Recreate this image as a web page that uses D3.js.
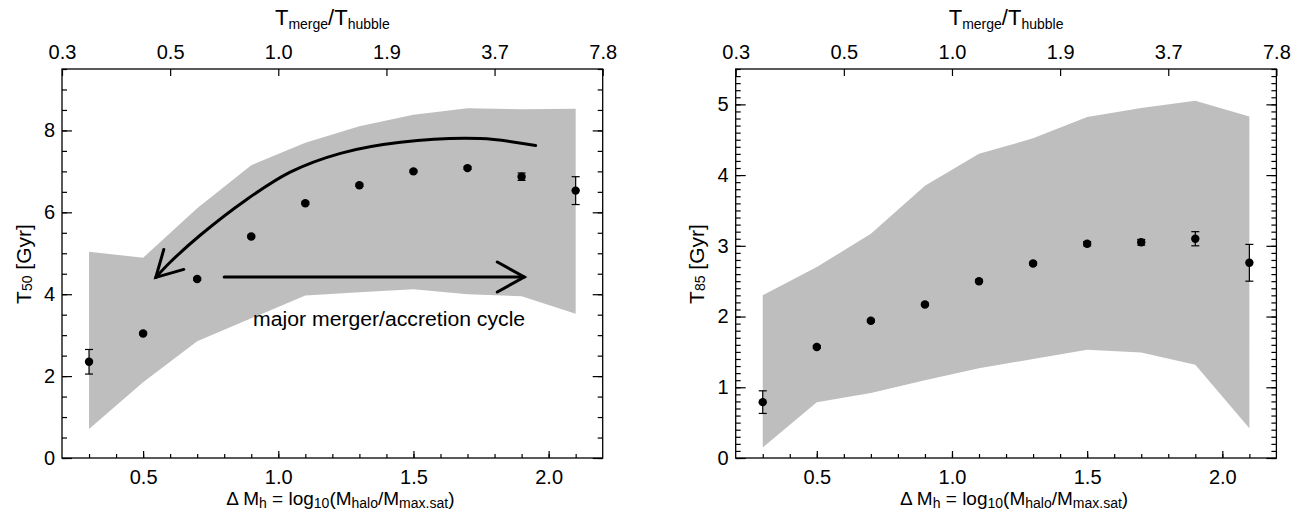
<!DOCTYPE html>
<html>
<head>
<meta charset="utf-8">
<script src="https://cdn.jsdelivr.net/npm/d3@7"></script>
<style>
  body { margin: 0; background: #fff; }
  text { font-family: "Liberation Sans", Arial, Helvetica, sans-serif; fill: #000; }
</style>
</head>
<body>
<svg id="chart" width="1302" height="512"></svg>
<script>
"use strict"

// bins of delta M_h, shared by both panels
const binX = [0.3, 0.5, 0.7, 0.9, 1.1, 1.3, 1.5, 1.7, 1.9, 2.1]
const bottomTicks = [0.5, 1.0, 1.5, 2.0]
const topTickPos = [0.2, 0.6, 1.0, 1.4, 1.8, 2.2]
const topTickLabels = ["0.3", "0.5", "1.0", "1.9", "3.7", "7.8"]

// left panel: T50
const t50 = [2.35, 3.04, 4.37, 5.41, 6.22, 6.66, 7.0, 7.08, 6.87, 6.53]
const t50Err = [0.3, 0.03, 0.03, 0.03, 0.03, 0.03, 0.03, 0.03, 0.09, 0.34]
const t50Hi = [5.04, 4.89, 6.1, 7.15, 7.7, 8.1, 8.38, 8.54, 8.52, 8.53]
const t50Lo = [0.71, 1.85, 2.85, 3.41, 3.97, 4.05, 4.12, 4.0, 3.95, 3.52]

// right panel: T85
const t85 = [0.79, 1.57, 1.94, 2.17, 2.5, 2.75, 3.03, 3.05, 3.1, 2.76]
const t85Err = [0.16, 0.02, 0.02, 0.02, 0.02, 0.02, 0.03, 0.04, 0.1, 0.26]
const t85Hi = [2.3, 2.7, 3.17, 3.85, 4.3, 4.52, 4.82, 4.95, 5.05, 4.83]
const t85Lo = [0.15, 0.79, 0.92, 1.1, 1.27, 1.4, 1.53, 1.49, 1.32, 0.42]

// annotation in the left panel (data coords)
const cycleArc = [[1.952, 7.63], [1.748, 7.8], [1.452, 7.71], [1.23, 7.44], [1.044, 6.98],
  [0.878, 6.29], [0.711, 5.44], [0.6, 4.78], [0.547, 4.41]]
const cycleArrow = [[0.8, 4.42], [1.91, 4.42]]
const cycleText = "major merger/accretion cycle"

const svg = d3.select("#chart")
const plotTop = 69, plotBottom = 458

function drawPanel(p) {
  const x = d3.scaleLinear().domain([0.2, 2.2]).range([p.left, p.left + 540.7])
  const y = d3.scaleLinear().domain(p.yDomain).range([plotBottom, plotTop])
  const g = svg.append("g")

  // spread band
  const band = d3.area()
    .x((d, i) => x(binX[i]))
    .y0((d, i) => y(p.lo[i]))
    .y1(d => y(d))
  g.append("path").datum(p.hi).attr("d", band).attr("fill", "#bebebe")

  // axes, ticks pointing inward
  const axes = g.append("g").attr("class", "axes")
  const put = (axis, tx, ty) => {
    const a = axes.append("g").attr("transform", `translate(${tx},${ty})`).call(axis)
    a.select(".domain").remove()
    a.selectAll("line").attr("stroke", "#000").attr("stroke-width", 1.2)
    a.selectAll("text").attr("font-size", 20).attr("font-family", null)
    return a
  }
  const minorX = d3.range(3, 22).map(v => v / 10)
  put(d3.axisBottom(x).tickValues(minorX).tickSize(-4).tickFormat(""), 0, plotBottom)
  put(d3.axisBottom(x).tickValues(bottomTicks).tickSize(-7).tickPadding(12)
    .tickFormat(d3.format(".1f")), 0, plotBottom)
  put(d3.axisTop(x).tickValues(topTickPos).tickSize(-7).tickPadding(10)
    .tickFormat((d, i) => topTickLabels[i]), 0, plotTop)

  const minorY = d3.range(0, p.yDomain[1] + 1e-9, p.minorStep)
  const majorY = d3.range(0, p.yDomain[1] + 1e-9, p.majorStep)
  put(d3.axisLeft(y).tickValues(minorY).tickSize(-5).tickFormat(""), p.left, 0)
  put(d3.axisLeft(y).tickValues(majorY).tickSize(-10).tickPadding(7)
    .tickFormat(d3.format("d")), p.left, 0)
  put(d3.axisRight(y).tickValues(minorY).tickSize(-5).tickFormat(""), x.range()[1], 0)
  put(d3.axisRight(y).tickValues(majorY).tickSize(-10).tickFormat(""), x.range()[1], 0)

  g.append("rect")
    .attr("x", x.range()[0]).attr("y", plotTop)
    .attr("width", x.range()[1] - x.range()[0]).attr("height", plotBottom - plotTop)
    .attr("fill", "none").attr("stroke", "#000").attr("stroke-width", 1.3)

  // points with error bars
  const pts = g.append("g")
  p.vals.forEach((v, i) => {
    const cx = x(binX[i])
    const ya = y(v + p.err[i]), yb = y(v - p.err[i])
    pts.append("line").attr("x1", cx).attr("x2", cx).attr("y1", ya).attr("y2", yb)
    pts.append("line").attr("x1", cx - 4).attr("x2", cx + 4).attr("y1", ya).attr("y2", ya)
    pts.append("line").attr("x1", cx - 4).attr("x2", cx + 4).attr("y1", yb).attr("y2", yb)
    pts.append("circle").attr("cx", cx).attr("cy", y(v)).attr("r", 4.2).attr("fill", "#000")
  })
  pts.selectAll("line").attr("stroke", "#000").attr("stroke-width", 1.2)

  // axis titles
  const midX = (x.range()[0] + x.range()[1]) / 2
  const tt = g.append("text").attr("x", midX).attr("y", 25)
    .attr("text-anchor", "middle").attr("font-size", 22)
  tt.append("tspan").text("T")
  tt.append("tspan").attr("font-size", 14).attr("dy", 4).text("merge")
  tt.append("tspan").attr("dy", -4).text("/T")
  tt.append("tspan").attr("font-size", 14).attr("dy", 4).text("hubble")

  const bt = g.append("text").attr("x", midX + 8).attr("y", 505)
    .attr("text-anchor", "middle").attr("font-size", 19)
  bt.append("tspan").text("\u0394 M")
  bt.append("tspan").attr("font-size", 14).attr("dy", 3).text("h")
  bt.append("tspan").attr("dy", -3).text(" = log")
  bt.append("tspan").attr("font-size", 14).attr("dy", 3).text("10")
  bt.append("tspan").attr("dy", -3).text("(M")
  bt.append("tspan").attr("font-size", 14).attr("dy", 3).text("halo")
  bt.append("tspan").attr("dy", -3).text("/M")
  bt.append("tspan").attr("font-size", 14).attr("dy", 3).text("max.sat")
  bt.append("tspan").attr("dy", -3).text(")")

  const yt = g.append("text")
    .attr("transform", `translate(${p.yLabelX},264) rotate(-90)`)
    .attr("text-anchor", "middle").attr("font-size", 21)
  yt.append("tspan").text("T")
  yt.append("tspan").attr("font-size", 14).attr("dy", 1).text(p.yName)
  yt.append("tspan").attr("dy", -1).text(" [Gyr]")

  return { g, x, y }
}

const left = drawPanel({
  left: 62, yDomain: [0, 9.5], majorStep: 2, minorStep: 0.5,
  vals: t50, err: t50Err, hi: t50Hi, lo: t50Lo, yName: "50", yLabelX: 31
})
drawPanel({
  left: 735.7, yDomain: [0, 5.5], majorStep: 1, minorStep: 0.1,
  vals: t85, err: t85Err, hi: t85Hi, lo: t85Lo, yName: "85", yLabelX: 704
})

// the cycle annotation
{
  const { g, x, y } = left
  const arrowPen = s => s.attr("fill", "none").attr("stroke", "#000")
    .attr("stroke-width", 3).attr("stroke-linecap", "round")
  const line = d3.line().x(d => x(d[0])).y(d => y(d[1])).curve(d3.curveCatmullRom)
  g.append("path").datum(cycleArc).attr("d", line).call(arrowPen)
  const tip = cycleArc[cycleArc.length - 1]
  const tx = x(tip[0]), ty = y(tip[1])
  g.append("path").attr("d", `M${tx + 28},${ty - 8}L${tx},${ty}L${tx + 8},${ty - 28}`)
    .call(arrowPen).attr("stroke-linejoin", "miter")

  const b = cycleArrow[1]
  g.append("path").datum(cycleArrow).attr("d", d3.line().x(d => x(d[0])).y(d => y(d[1])))
    .call(arrowPen)
  const bx = x(b[0]), by = y(b[1])
  g.append("path").attr("d", `M${bx - 27},${by - 15}L${bx},${by}L${bx - 27},${by + 15}`)
    .call(arrowPen).attr("stroke-linejoin", "miter")

  g.append("text").attr("x", x(0.907)).attr("y", y(3.22))
    .attr("font-size", 20).attr("textLength", 272).attr("lengthAdjust", "spacingAndGlyphs")
    .text(cycleText)
}
</script>
</body>
</html>
